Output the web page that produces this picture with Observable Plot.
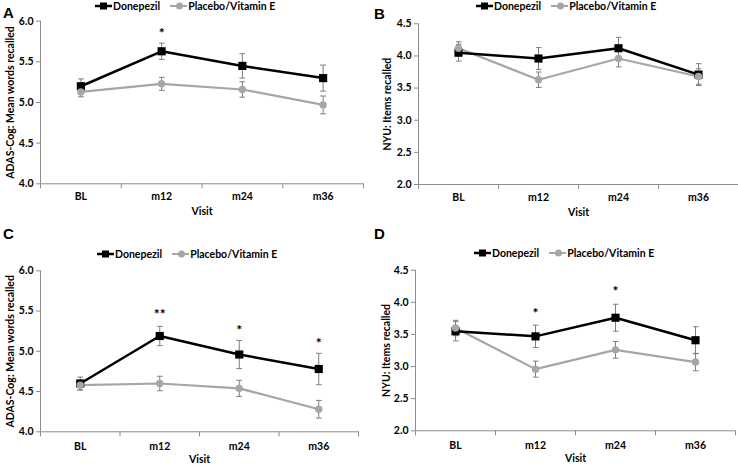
<!DOCTYPE html>
<html>
<head>
<meta charset="utf-8">
<script src="https://cdn.jsdelivr.net/npm/d3@7"></script>
<script src="https://cdn.jsdelivr.net/npm/@observablehq/plot@0.6"></script>
<style>
  html, body { margin: 0; padding: 0; background: #fff; }
  #root { position: relative; width: 738px; height: 474px; overflow: hidden; font-family: Lato, "Open Sans", sans-serif; }
  .panel { position: absolute; width: 369px; height: 237px; }
  .panel svg { position: absolute; left: 0; }
  .letter { position: absolute; font-family: "Liberation Sans", Arial, sans-serif; font-weight: bold; font-size: 15px; line-height: 1; color: #000; }
  .legend { position: absolute; display: flex; align-items: center; font-weight: bold; font-size: 10.5px; color: #000; white-space: nowrap; height: 12px; }
  .legend .item { display: flex; align-items: center; }
  .legend .item + .item { margin-left: 10px; }
  .legend svg { position: static; display: block; }
</style>
</head>
<body>
<div id="root"></div>
<script>
// ---------- data ----------
const visits = ["BL", "m12", "m24", "m36"];
const seriesNames = ["Donepezil", "Placebo/Vitamin E"];

// Panel A: ADAS-Cog, mean words recalled
const aDonepezil = [5.20, 5.63, 5.45, 5.30];
const aDonepezilErr = [0.09, 0.10, 0.15, 0.16];
const aPlacebo = [5.13, 5.23, 5.16, 4.97];
const aPlaceboErr = [0.06, 0.08, 0.095, 0.11];
const aStars = ["", "*", "", ""];
const aStarY = [null, 5.89, null, null];

// Panel B: NYU, items recalled
const bDonepezil = [4.05, 3.96, 4.12, 3.71];
const bDonepezilErr = [0.13, 0.17, 0.17, 0.17];
const bPlacebo = [4.12, 3.63, 3.96, 3.68];
const bPlaceboErr = [0.10, 0.12, 0.13, 0.12];

// Panel C: ADAS-Cog, mean words recalled
const cDonepezil = [4.60, 5.19, 4.96, 4.78];
const cDonepezilErr = [0.08, 0.12, 0.175, 0.195];
const cPlacebo = [4.58, 4.60, 4.54, 4.28];
const cPlaceboErr = [0.06, 0.09, 0.10, 0.11];
const cStars = ["", "**", "*", "*"];
const cStarY = [null, 5.49, 5.30, 5.14];

// Panel D: NYU, items recalled
const dDonepezil = [3.55, 3.47, 3.76, 3.41];
const dDonepezilErr = [0.15, 0.175, 0.21, 0.21];
const dPlacebo = [3.60, 2.96, 3.26, 3.07];
const dPlaceboErr = [0.12, 0.125, 0.13, 0.135];
const dStars = ["", "*", "*", ""];
const dStarY = [null, 3.88, 4.22, null];

const adasTicks = [4.0, 4.5, 5.0, 5.5, 6.0];
const nyuTicks = [2.0, 2.5, 3.0, 3.5, 4.0, 4.5];
const adasLabel = "ADAS-Cog: Mean words recalled";
const nyuLabel = "NYU: Items recalled";

const BLACK = "#000000";
const GREY = "#a6a6a6";
const ERR = "#7f7f7f";
const AXIS = "#8c8c8c";

// ---------- drawing ----------
const root = document.getElementById("root");

function legend(parent, left, top) {
  const lg = document.createElement("div");
  lg.className = "legend";
  lg.style.left = left + "px";
  lg.style.top = top + "px";
  const specs = [
    {name: seriesNames[0], color: BLACK, sw: 2.5, shape: "square"},
    {name: seriesNames[1], color: GREY, sw: 2, shape: "circle"}
  ];
  for (const s of specs) {
    const it = document.createElement("div");
    it.className = "item";
    const ns = "http://www.w3.org/2000/svg";
    const svg = document.createElementNS(ns, "svg");
    svg.setAttribute("width", 18);
    svg.setAttribute("height", 10);
    const ln = document.createElementNS(ns, "line");
    ln.setAttribute("x1", 0); ln.setAttribute("x2", 17);
    ln.setAttribute("y1", 5); ln.setAttribute("y2", 5);
    ln.setAttribute("stroke", s.color); ln.setAttribute("stroke-width", s.sw);
    svg.appendChild(ln);
    let m;
    if (s.shape === "square") {
      m = document.createElementNS(ns, "rect");
      m.setAttribute("x", 5); m.setAttribute("y", 1.5);
      m.setAttribute("width", 7); m.setAttribute("height", 7);
    } else {
      m = document.createElementNS(ns, "circle");
      m.setAttribute("cx", 9.5); m.setAttribute("cy", 5); m.setAttribute("r", 3.5);
    }
    m.setAttribute("fill", s.color);
    svg.appendChild(m);
    it.appendChild(svg);
    const tx = document.createElement("span");
    tx.textContent = s.name;
    it.appendChild(tx);
    lg.appendChild(it);
  }
  parent.appendChild(lg);
}

function panel(cfg) {
  const div = document.createElement("div");
  div.className = "panel";
  div.style.left = cfg.left + "px";
  div.style.top = cfg.top + "px";
  root.appendChild(div);
  legend(div, cfg.legendLeft, cfg.legendTop);

  const don = visits.map((v, i) => ({x: i + 0.5, y: cfg.don[i], lo: cfg.don[i] - cfg.donErr[i], hi: cfg.don[i] + cfg.donErr[i]}));
  const pla = visits.map((v, i) => ({x: i + 0.5, y: cfg.pla[i], lo: cfg.pla[i] - cfg.plaErr[i], hi: cfg.pla[i] + cfg.plaErr[i]}));
  const stars = (cfg.stars || []).map((s, i) => ({x: i + 0.5, y: cfg.starY[i], s})).filter(d => d.s);
  const y0 = cfg.yTicks[0];

  const plot = Plot.plot({
    width: 369,
    height: cfg.height,
    marginLeft: cfg.ml,
    marginRight: cfg.mr,
    marginTop: cfg.mt,
    marginBottom: cfg.mb,
    style: {fontFamily: "Lato, 'Open Sans', sans-serif", fontSize: "10.5px", fontWeight: "bold", color: "#000", background: "transparent"},
    x: {domain: [0, visits.length]},
    y: {domain: [y0, cfg.yTicks[cfg.yTicks.length - 1]]},
    marks: [
      Plot.ruleY([y0], {stroke: AXIS, strokeWidth: 1}),
      Plot.ruleX([0], {stroke: AXIS, strokeWidth: 1}),
      Plot.axisX({ticks: d3.range(0, visits.length + 1), tickFormat: () => "", tickSize: 5, stroke: AXIS, label: null}),
      Plot.axisX({ticks: visits.map((_, i) => i + 0.5), tickFormat: d => visits[Math.round(d - 0.5)], tickSize: 0, tickPadding: cfg.xPad, fill: "#000",
                  label: "Visit", labelAnchor: "center", labelOffset: cfg.xLabelOffset, labelArrow: "none"}),
      Plot.axisY({ticks: cfg.yTicks, tickFormat: d3.format(".1f"), tickSize: 4, tickPadding: 3, stroke: AXIS, fill: "#000",
                  label: cfg.yLabel, labelAnchor: "center", labelOffset: cfg.yLabelOffset, labelArrow: "none"}),
      Plot.link(don, {x1: "x", x2: "x", y1: "lo", y2: "hi", stroke: ERR, strokeWidth: 1, markerStart: "tick", markerEnd: "tick"}),
      Plot.link(pla, {x1: "x", x2: "x", y1: "lo", y2: "hi", stroke: ERR, strokeWidth: 1, markerStart: "tick", markerEnd: "tick"}),
      Plot.line(pla, {x: "x", y: "y", stroke: GREY, strokeWidth: 2.2}),
      Plot.line(don, {x: "x", y: "y", stroke: BLACK, strokeWidth: 2.5}),
      Plot.dot(don, {x: "x", y: "y", symbol: "square", r: 4.6, fill: BLACK, stroke: null}),
      Plot.dot(pla, {x: "x", y: "y", r: 3.7, fill: GREY, stroke: null}),
      Plot.text(stars, {x: "x", y: "y", text: "s", fontSize: 14, fontWeight: "bold", fill: "#000", dy: 3})
    ]
  });
  plot.style.top = cfg.svgTop + "px";
  div.appendChild(plot);
}

panel({left: 0, top: 0, svgTop: 13, height: 224, ml: 40, mr: 6, mt: 7.7, mb: 53.7, xPad: 9, xLabelOffset: 31, yLabelOffset: 34,
       legendLeft: 95, legendTop: 0, yTicks: adasTicks, yLabel: adasLabel,
       don: aDonepezil, donErr: aDonepezilErr, pla: aPlacebo, plaErr: aPlaceboErr, stars: aStars, starY: aStarY});
panel({left: 369, top: 0, svgTop: 13, height: 224, ml: 49, mr: 0, mt: 10.3, mb: 53, xPad: 9, xLabelOffset: 31, yLabelOffset: 35,
       legendLeft: 107, legendTop: 0, yTicks: nyuTicks, yLabel: nyuLabel,
       don: bDonepezil, donErr: bDonepezilErr, pla: bPlacebo, plaErr: bPlaceboErr, stars: [], starY: []});
panel({left: 0, top: 237, svgTop: 24, height: 213, ml: 40, mr: 11, mt: 9.3, mb: 42.7, xPad: 11, xLabelOffset: 31, yLabelOffset: 34,
       legendLeft: 97, legendTop: 11, yTicks: adasTicks, yLabel: adasLabel,
       don: cDonepezil, donErr: cDonepezilErr, pla: cPlacebo, plaErr: cPlaceboErr, stars: cStars, starY: cStarY});
panel({left: 369, top: 237, svgTop: 23, height: 214, ml: 46, mr: 3, mt: 9.7, mb: 43.7, xPad: 11, xLabelOffset: 31, yLabelOffset: 33,
       legendLeft: 105, legendTop: 10, yTicks: nyuTicks, yLabel: nyuLabel,
       don: dDonepezil, donErr: dDonepezilErr, pla: dPlacebo, plaErr: dPlaceboErr, stars: dStars, starY: dStarY});

// panel letters
for (const [t, x, y] of [["A", 3, 5], ["B", 374, 6], ["C", 3, 226], ["D", 374, 226]]) {
  const l = document.createElement("div");
  l.className = "letter";
  l.textContent = t;
  l.style.left = x + "px";
  l.style.top = y + "px";
  root.appendChild(l);
}
</script>
</body>
</html>
